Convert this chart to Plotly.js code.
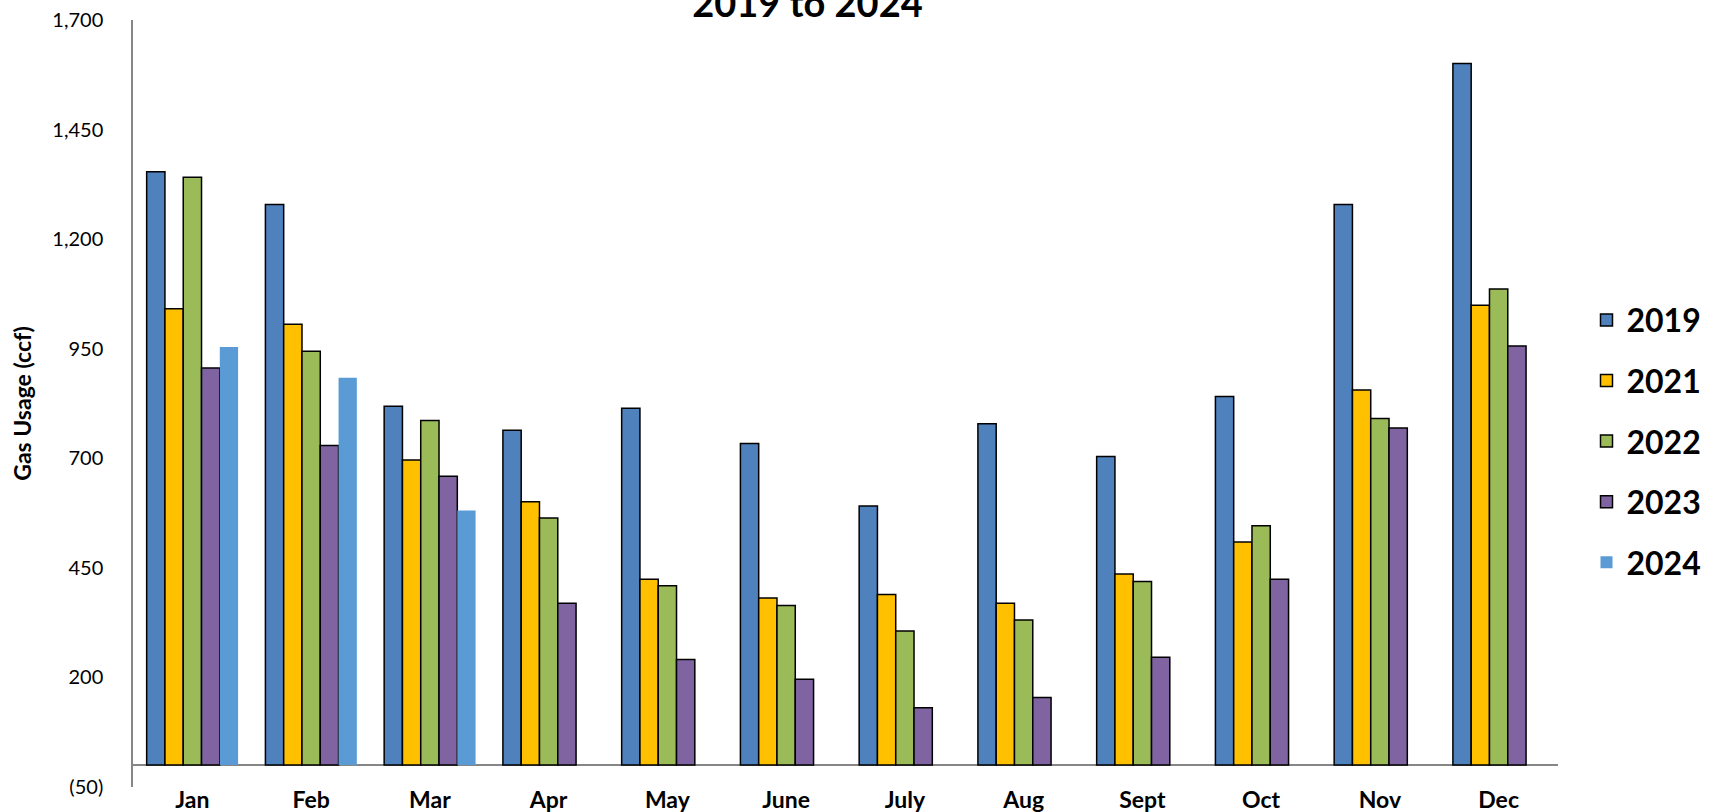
<!DOCTYPE html>
<html>
<head>
<meta charset="utf-8">
<script src="https://cdn.plot.ly/plotly-3.0.1.min.js"></script>
<style>
html,body{margin:0;padding:0;background:#fff;}
#chart{width:1718px;height:812px;}
</style>
</head>
<body>
<div id="chart"></div>
<script>
const months = ['Jan','Feb','Mar','Apr','May','June','July','Aug','Sept','Oct','Nov','Dec'];
const y2019 = [1354,1279,819,764,814,734,591,779,704,841,1279,1601];
const y2021 = [1041,1006,696,601,424,381,389,369,436,509,856,1049];
const y2022 = [1341,944,786,564,409,364,306,331,419,546,791,1086];
const y2023 = [906,729,659,369,241,196,131,154,246,424,769,956];
const y2024 = [954,884,581,null,null,null,null,null,null,null,null,null];
const seriesNames = ['2019','2021','2022','2023','2024'];
const tickVals = [-50,200,450,700,950,1200,1450,1700];
const tickText = ['(50)','200','450','700','950','1,200','1,450','1,700'];

const colors = ['#4F81BD','#FFC000','#9BBB59','#8064A2','#5B9BD5'];
const lineW = [1.5,1.5,1.5,1.5,0];
const allY = [y2019,y2021,y2022,y2023,y2024];

const traces = allY.map((ys,i)=>({
  type:'bar', name: seriesNames[i], x: months, y: ys,
  legendgroup: 'g'+i,
  marker:{color: colors[i], line:{color:'#000', width: lineW[i]}},
  hoverinfo:'x+y+name'
}));

const layout = {
  width:1718, height:812,
  paper_bgcolor:'#fff', plot_bgcolor:'#fff',
  margin:{l:133, r:160, t:20, b:25, autoexpand:false},
  font:{family:'Lato, "Open Sans", sans-serif', color:'#000'},
  barmode:'group', bargap:0.23, bargroupgap:0,
  title:{text:'<b>2019 to 2024</b>', font:{size:38, family:'Lato, sans-serif', color:'#000'},
         xref:'container', x:0.47, xanchor:'center', yref:'container', y:0.996, yanchor:'middle'},
  xaxis:{type:'category', showline:false, ticks:'', showgrid:false, zeroline:false,
         tickfont:{size:23, family:'Lato, sans-serif', color:'#000', weight:'bold'},
         ticklabelstandoff:-3, automargin:false},
  yaxis:{range:[-50,1700], tickvals:tickVals, ticktext:tickText, showgrid:false,
         showline:true, linecolor:'#868686', linewidth:1.5,
         zeroline:true, zerolinecolor:'#868686', zerolinewidth:1.5,
         ticks:'', ticklabelstandoff:24,
         tickfont:{size:20, family:'Lato, sans-serif', color:'#000'},
         title:{text:'<b>Gas Usage (ccf)</b>', font:{size:23, family:'Lato, sans-serif', color:'#000'}, standoff:14},
         automargin:false},
  legend:{x:1.02, xanchor:'left', y:0.451, yanchor:'middle', traceorder:'grouped', tracegroupgap:16,
          font:{size:32, family:'Lato, sans-serif', color:'#000', weight:'bold'},
          bgcolor:'rgba(0,0,0,0)'},
  showlegend:true
};
Plotly.newPlot('chart', traces, layout, {displayModeBar:false, staticPlot:false});
</script>
</body>
</html>
